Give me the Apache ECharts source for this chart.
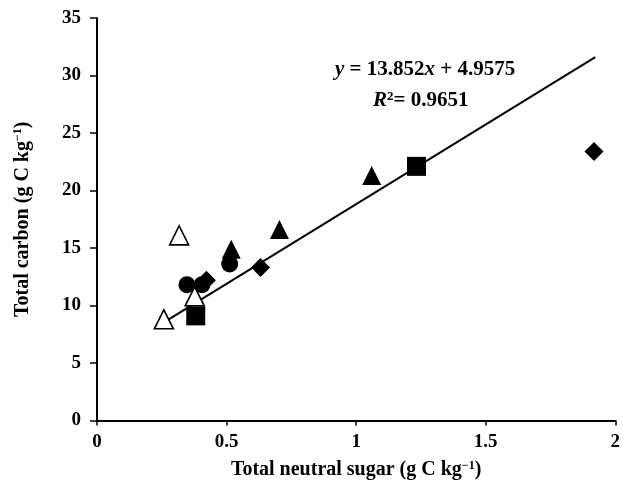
<!DOCTYPE html>
<html>
<head>
<meta charset="utf-8">
<script src="https://cdn.jsdelivr.net/npm/echarts@6/dist/echarts.min.js"></script>
<style>html,body{margin:0;padding:0;background:#fff}#c{width:623px;height:485px}</style>
</head>
<body>
<div id="c"></div>
<script>
// Data
const diamonds = [[0.422, 12.2], [0.631, 13.3], [1.918, 23.4]];
const squares = [[0.381, 9.1], [1.233, 22.1]];
const filledTriangles = [[0.518, 14.9], [0.704, 16.6], [1.06, 21.3]];
const circles = [[0.347, 11.8], [0.405, 11.8], [0.512, 13.6]];
const openTriangles = [[0.258, 8.8], [0.317, 16.1], [0.377, 10.8]];
const slope = 13.852, intercept = 4.9575, r2 = '0.9651';
const fitRange = [0.258, 1.923];
const xTicks = [0, 0.5, 1, 1.5, 2];
const yTicks = [0, 5, 10, 15, 20, 25, 30, 35];

const fitLine = fitRange.map(x => [x, slope * x + intercept]);
const FONT = '"Liberation Serif", "Times New Roman", serif';

const chart = echarts.init(document.getElementById('c'), null, {renderer: 'canvas'});
const mk = (name, symbol, data, open) => ({
  name, type: 'scatter', symbol, symbolSize: symbol === 'circle' ? 17 : 19, data,
  itemStyle: open ? {color: '#fff', borderColor: '#000', borderWidth: 1.6, opacity: 1} : {color: '#000', opacity: 1},
  z: 3
});
chart.setOption({
  animation: false,
  backgroundColor: '#fff',
  grid: {left: 97, right: 6, top: 18, bottom: 63, containLabel: false},
  xAxis: {
    type: 'value', min: 0, max: 2, interval: 0.5,
    name: 'Total neutral sugar (g C kg{sup|−1})', nameLocation: 'middle', nameGap: 39,
    nameTextStyle: {fontFamily: FONT, fontSize: 20, fontWeight: 'bold', color: '#000',
      rich: {sup: {fontFamily: FONT, fontSize: 12, fontWeight: 'bold', padding: [0,0,9,0], color: '#000'}}},
    axisLine: {show: true, lineStyle: {color: '#000', width: 2}},
    axisTick: {show: true, inside: false, length: 5, lineStyle: {color: '#000', width: 1.5}},
    axisLabel: {fontFamily: FONT, fontSize: 19, fontWeight: 'bold', color: '#000', margin: 12,
      formatter: v => xTicks.includes(v) ? String(v) : ''},
    splitLine: {show: false}
  },
  yAxis: {
    type: 'value', min: 0, max: 35, interval: 5,
    name: 'Total carbon (g C kg{sup|−1})', nameLocation: 'middle', nameGap: 64, nameRotate: 90,
    nameTextStyle: {fontFamily: FONT, fontSize: 20, fontWeight: 'bold', color: '#000',
      rich: {sup: {fontFamily: FONT, fontSize: 12, fontWeight: 'bold', color: '#000', padding: [0,0,9,0]}}},
    axisLine: {show: true, lineStyle: {color: '#000', width: 2}},
    axisTick: {show: true, inside: false, length: 7, lineStyle: {color: '#000', width: 1.5}},
    axisLabel: {fontFamily: FONT, fontSize: 19, fontWeight: 'bold', color: '#000', margin: 16,
      formatter: v => yTicks.includes(v) ? String(v) : ''},
    splitLine: {show: false}
  },
  series: [
    {name: 'fit', type: 'line', data: fitLine, symbol: 'none', lineStyle: {color: '#000', width: 2}, z: 2, silent: true},
    mk('diamond', 'diamond', diamonds, false),
    mk('square', 'rect', squares, false),
    mk('triangle', 'triangle', filledTriangles, false),
    mk('circle', 'circle', circles, false),
    mk('open triangle', 'triangle', openTriangles, true)
  ],
  graphic: [
    {type: 'text', left: 335, top: 59, style: {
      text: '{i|y} = 13.852{i|x} + 4.9575', fill: '#000',
      font: 'bold 21px ' + FONT,
      rich: {i: {fontFamily: FONT, fontStyle: 'italic', fontWeight: 'bold', fontSize: 21}}
    }},
    {type: 'text', left: 373, top: 90, style: {
      text: '{i|R}{s|2}= ' + r2, fill: '#000',
      font: 'bold 21px ' + FONT,
      rich: {i: {fontFamily: FONT, fontStyle: 'italic', fontWeight: 'bold', fontSize: 21},
             s: {fontFamily: FONT, fontWeight: 'bold', fontSize: 13, padding: [0,0,9,0]}}
    }}
  ]
});
</script>
</body>
</html>
